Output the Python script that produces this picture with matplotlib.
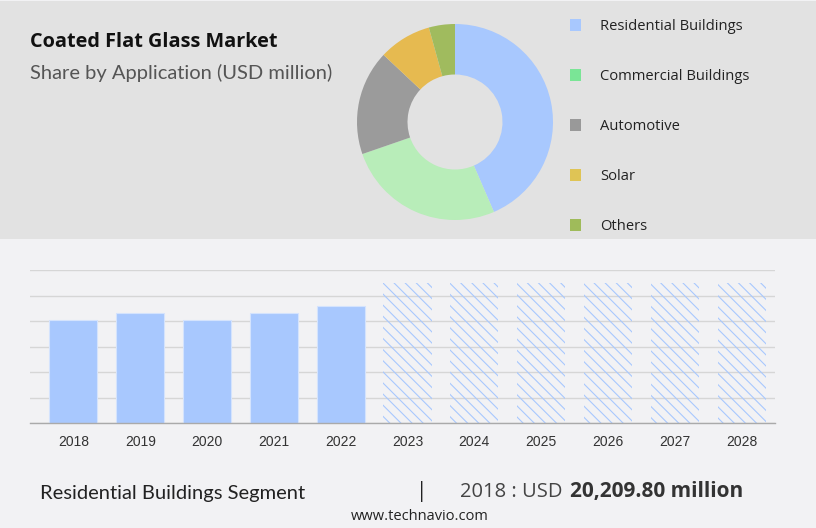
import matplotlib
matplotlib.use("Agg")
import matplotlib.pyplot as plt
from matplotlib.patches import Rectangle

# ---- data ----
segments = ["Residential Buildings", "Commercial Buildings", "Automotive", "Solar", "Others"]
shares = [43.5, 26.2, 17.3, 8.7, 4.3]
donut_colors = ["#a8c8fe", "#b8edb9", "#9b9b9b", "#e6ba50", "#a0bb5e"]
legend_colors = ["#a8c8fe", "#7ae596", "#999999", "#dfc455", "#9fbb5a"]

years = ["2018", "2019", "2020", "2021", "2022", "2023", "2024", "2025", "2026", "2027", "2028"]
values = [20209.8, 21500, 20200, 21500, 22950, 27500, 27500, 27500, 27500, 27500, 27500]
forecast = [False, False, False, False, False, True, True, True, True, True, True]

title = "Coated Flat Glass Market"
subtitle = "Share by Application (USD million)"
footer_segment = "Residential Buildings Segment"
footer_year = "2018 : USD "
footer_value = "20,209.80 million"
site = "www.technavio.com"

plt.rcParams["hatch.linewidth"] = 0.8

W, H = 816, 528
fig = plt.figure(figsize=(W / 100, H / 100), dpi=100)
fig.patch.set_facecolor("#f2f2f4")

def fx(px):
    return px / W

def fy(py):
    return 1 - py / H

# top panel
fig.patches.append(Rectangle((0, fy(239)), 1, fy(1) - fy(239), transform=fig.transFigure,
                             facecolor="#e2e2e2", edgecolor="none", zorder=-5))

# titles
fig.text(fx(30), fy(42), title, fontsize=14.3, fontweight="bold", color="#111111",
         family="Open Sans", va="center", ha="left")
fig.text(fx(30), fy(73), subtitle, fontsize=14.5, color="#555555",
         family="Lato", va="center", ha="left")

# donut
cx, cy, R = 455, 122, 100
axp = fig.add_axes([fx(cx - R), fy(cy + R), 2 * R / W, 2 * R / H], zorder=3)
axp.pie(shares, colors=donut_colors, startangle=90, counterclock=False, radius=0.98,
        wedgeprops=dict(width=0.505, linewidth=0))
axp.set_xlim(-1, 1)
axp.set_ylim(-1, 1)
axp.set_aspect("equal")
axp.axis("off")

# legend
for i, (lab, col) in enumerate(zip(segments, legend_colors)):
    yc = 25 + 50 * i
    fig.patches.append(Rectangle((fx(570), fy(yc + 5.5)), 11 / W, 11 / H,
                                 transform=fig.transFigure, facecolor=col, edgecolor="none"))
    fig.text(fx(600), fy(yc + 1.5), lab, fontsize=10.6, color="#222222", family="Open Sans",
             va="center", ha="left")

# bar chart
axb = fig.add_axes([fx(30), fy(423), (775 - 30) / W, (423 - 270) / H])
axb.set_facecolor("none")
x = list(range(len(years)))
for xi, v, fc in zip(x, values, forecast):
    if fc:
        axb.bar(xi, v, width=0.72, facecolor="none", edgecolor="#a8c8fe", hatch="\\\\\\",
                linewidth=0, zorder=2)
    else:
        axb.bar(xi, v, width=0.72, facecolor="#a8c8fe", edgecolor="#d4e3fd",
                linewidth=0.8, zorder=2)
axb.set_xlim(-0.65, 10.5)
axb.set_ylim(0, 30000)
axb.set_yticks(range(0, 30001, 5000))
axb.yaxis.grid(True, color="#d6d6d6", linewidth=1)
axb.set_axisbelow(True)
axb.tick_params(axis="y", length=0, labelleft=False)
axb.set_xticks(x)
axb.set_xticklabels(years, fontsize=10, color="#333333", family="Liberation Sans")
axb.tick_params(axis="x", length=0, pad=9)
for s in ["top", "right", "left"]:
    axb.spines[s].set_visible(False)
axb.spines["bottom"].set_color("#aaaaaa")
axb.spines["bottom"].set_linewidth(1)

# footer
fig.text(fx(40), fy(493), footer_segment, fontsize=14.5, color="#222222", family="Lato",
         va="center", ha="left")
fig.text(fx(422), fy(492), "|", fontsize=15, color="#222222", family="Open Sans",
         va="center", ha="center")
fig.text(fx(460), fy(492), footer_year, fontsize=14.5, color="#444444", family="Open Sans",
         stretch="semi-condensed", va="center", ha="left")
fig.text(fx(743), fy(492), footer_value, fontsize=15, color="#333333", family="Open Sans",
         stretch="condensed", fontweight="bold", va="center", ha="right")
fig.text(fx(420), fy(516), site, fontsize=10.5, color="#222222", family="Open Sans",
         va="center", ha="center")

fig.savefig("out.png", dpi=100, facecolor=fig.get_facecolor())
